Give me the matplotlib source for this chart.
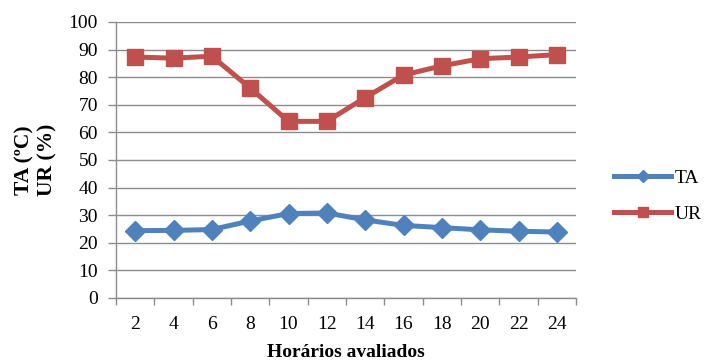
import matplotlib
matplotlib.use('Agg')
import matplotlib.pyplot as plt
import numpy as np

hours = [2, 4, 6, 8, 10, 12, 14, 16, 18, 20, 22, 24]
ta = [24.4, 24.5, 24.8, 27.9, 30.6, 30.8, 28.3, 26.3, 25.5, 24.7, 24.2, 23.9]
ur = [87.3, 86.9, 87.6, 76.1, 64.0, 64.0, 72.6, 80.8, 84.1, 86.7, 87.3, 88.2]

plt.rcParams['font.family'] = ['Liberation Serif', 'DejaVu Serif']
FS = 14

fig = plt.figure(figsize=(7.06, 3.63), dpi=100)
ax = fig.add_axes([116 / 706, 65 / 363, 460 / 706, 276 / 363])

x = np.arange(len(hours))
ax.plot(x, ta, color='#4F81BD', linewidth=3.6, marker='D', markersize=10,
        label='TA', zorder=3)
ax.plot(x, ur, color='#C0504D', linewidth=3.6, marker='s', markersize=11.5,
        label='UR', zorder=3)

ax.set_xlim(-0.5, len(hours) - 0.5)
ax.set_ylim(0, 100)
ax.set_yticks(range(0, 101, 10))
ax.yaxis.grid(True, color='#8c8c8c', linewidth=1)
ax.set_axisbelow(True)

ax.set_xticks(x)
ax.set_xticklabels([str(h) for h in hours])
ax.set_xticks(np.arange(-0.5, len(hours), 1), minor=True)
ax.tick_params(axis='x', which='major', length=0, pad=13, labelsize=FS)
ax.tick_params(axis='x', which='minor', length=5, color='#8c8c8c', width=1)
ax.tick_params(axis='y', length=6, color='#8c8c8c', width=1, labelsize=FS, pad=7)

for s in ['top', 'right']:
    ax.spines[s].set_visible(False)
for s in ['left', 'bottom']:
    ax.spines[s].set_color('#8c8c8c')
    ax.spines[s].set_linewidth(1)

ax.set_xlabel('Horários avaliados', fontsize=FS, fontweight='bold', labelpad=8)
ax.set_ylabel('TA (ºC)\nUR (%)', fontsize=15.5, fontweight='bold', labelpad=8,
              linespacing=1.2)

fig.legend(loc='center left', bbox_to_anchor=(614 / 706, 1 - 196 / 363),
           frameon=False, fontsize=FS, handlelength=2.95, handletextpad=0.15,
           labelspacing=0.95, borderaxespad=0, borderpad=0, markerscale=0.6)

fig.savefig('out.png', dpi=100)
